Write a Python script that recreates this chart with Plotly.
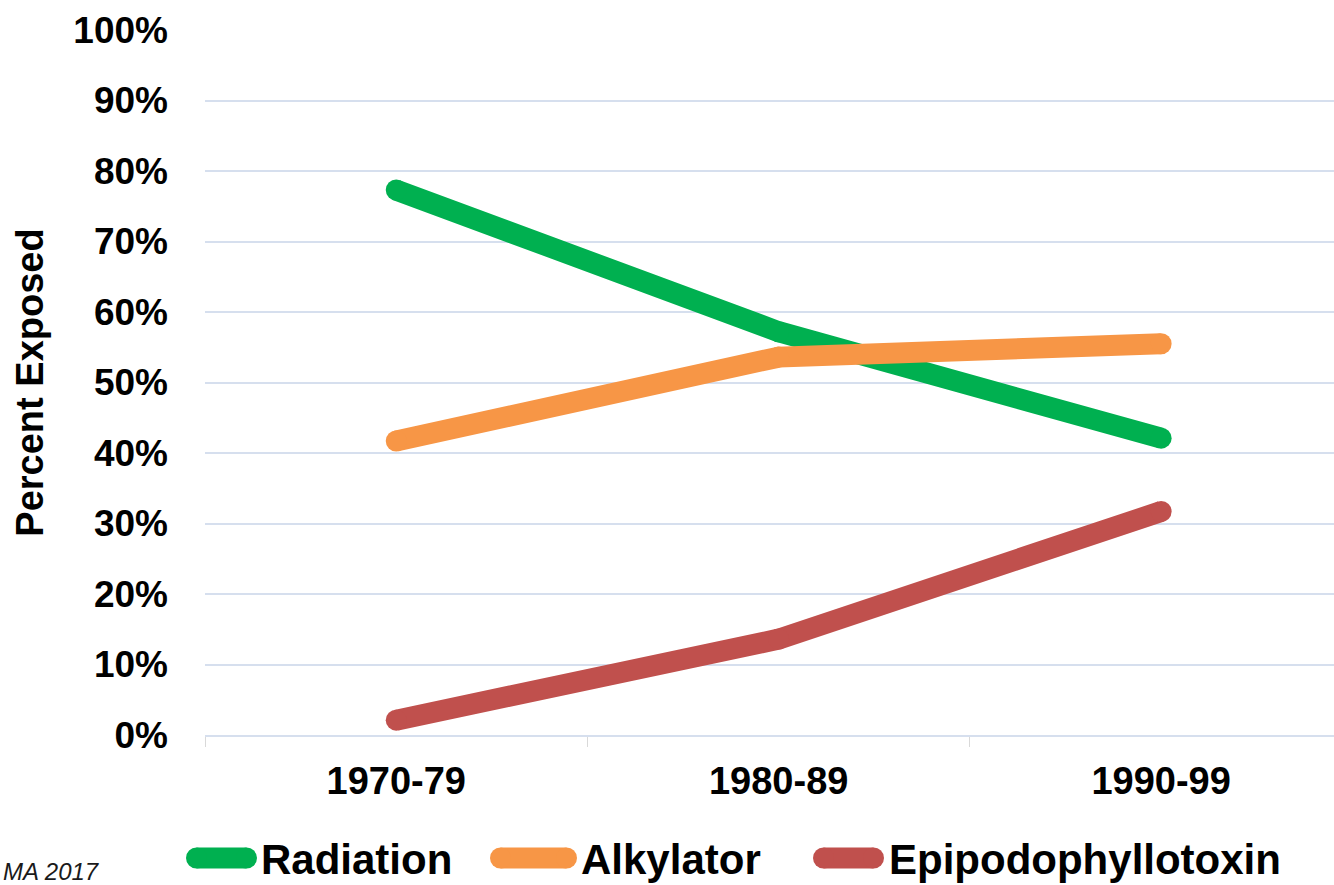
import plotly.graph_objects as go

# ---- data ----
periods = ["1970-79", "1980-89", "1990-99"]
radiation = [77.3, 57.2, 42.1]
alkylator = [41.7, 53.6, 55.5]
epipodophyllotoxin = [2.1, 13.6, 31.7]
series_names = ["Radiation", "Alkylator", "Epipodophyllotoxin"]
y_ticks = [0, 10, 20, 30, 40, 50, 60, 70, 80, 90, 100]
y_tick_labels = ["0%", "10%", "20%", "30%", "40%", "50%", "60%", "70%", "80%", "90%", "100%"]

colors = ["#00B050", "#F79646", "#C0504D"]
FONT = "Liberation Sans, Arial, sans-serif"
W, H = 1334, 885
ML, MR, MT, MB = 205, 0, 30, 150
PW, PH = W - ML - MR, H - MT - MB
LW = 21

fig = go.Figure()
for name, vals, col in zip(series_names, [radiation, alkylator, epipodophyllotoxin], colors):
    fig.add_trace(go.Scatter(
        x=periods, y=vals, name=name, mode="lines+markers",
        line=dict(color=col, width=LW),
        marker=dict(color=col, size=LW, line=dict(width=0)),
        showlegend=False,
    ))

def px_x(px):
    return (px - ML) / PW

def px_y(py):
    return (H - MB - py) / PH

# manual legend
leg_y = 858
swatches = [(186, 257, 259), (490, 577, 579), (813, 884, 887)]
shapes = []
annotations = []
for (x0, x1, tx), name, col in zip(swatches, series_names, colors):
    shapes.append(dict(type="line", xref="paper", yref="paper",
                       x0=px_x(x0 + LW / 2), x1=px_x(x1 - LW / 2),
                       y0=px_y(leg_y), y1=px_y(leg_y),
                       line=dict(color=col, width=LW)))
    for cx in (x0 + LW / 2, x1 - LW / 2):
        shapes.append(dict(type="circle", xref="paper", yref="paper",
                           xsizemode="pixel", ysizemode="pixel",
                           xanchor=px_x(cx), yanchor=px_y(leg_y),
                           x0=-LW / 2, x1=LW / 2, y0=-LW / 2, y1=LW / 2,
                           fillcolor=col, line=dict(width=0)))
    annotations.append(dict(text=name, xref="paper", yref="paper",
                            x=px_x(tx), y=px_y(leg_y + 1), xanchor="left", yanchor="middle",
                            showarrow=False,
                            font=dict(family=FONT, size=42, color="#000000", weight=700)))

annotations.append(dict(text="MA 2017", xref="paper", yref="paper",
                        x=px_x(1), y=px_y(856), xanchor="left", yanchor="top",
                        showarrow=False,
                        font=dict(family=FONT, size=24, color="#1a1a1a", style="italic")))

fig.update_layout(
    width=W, height=H,
    margin=dict(l=ML, r=MR, t=MT, b=MB, pad=0),
    paper_bgcolor="white", plot_bgcolor="white",
    font=dict(family=FONT, color="#000000"),
    shapes=shapes, annotations=annotations,
    xaxis=dict(
        type="category", range=[-0.5, 2.452],
        tickson="boundaries", ticks="outside", ticklen=10, tickcolor="#D9D9D9", tickwidth=1,
        showgrid=False, showline=True, linecolor="#D6DFEE", linewidth=2,
        tickfont=dict(family=FONT, size=38, color="#000000", weight=700),
        ticklabelstandoff=11,
        zeroline=False, fixedrange=True,
    ),
    yaxis=dict(
        range=[0, 100], tickmode="array", tickvals=y_ticks, ticktext=y_tick_labels,
        showgrid=True, gridcolor="#D6DFEE", gridwidth=2,
        zeroline=False, showline=False, ticks="",
        tickfont=dict(family=FONT, size=37, color="#000000", weight=700),
        ticklabelstandoff=36,
        title=dict(text="Percent Exposed", standoff=18,
                   font=dict(family=FONT, size=38, color="#000000", weight=700)),
        fixedrange=True,
    ),
)

fig.write_html("out.html")
